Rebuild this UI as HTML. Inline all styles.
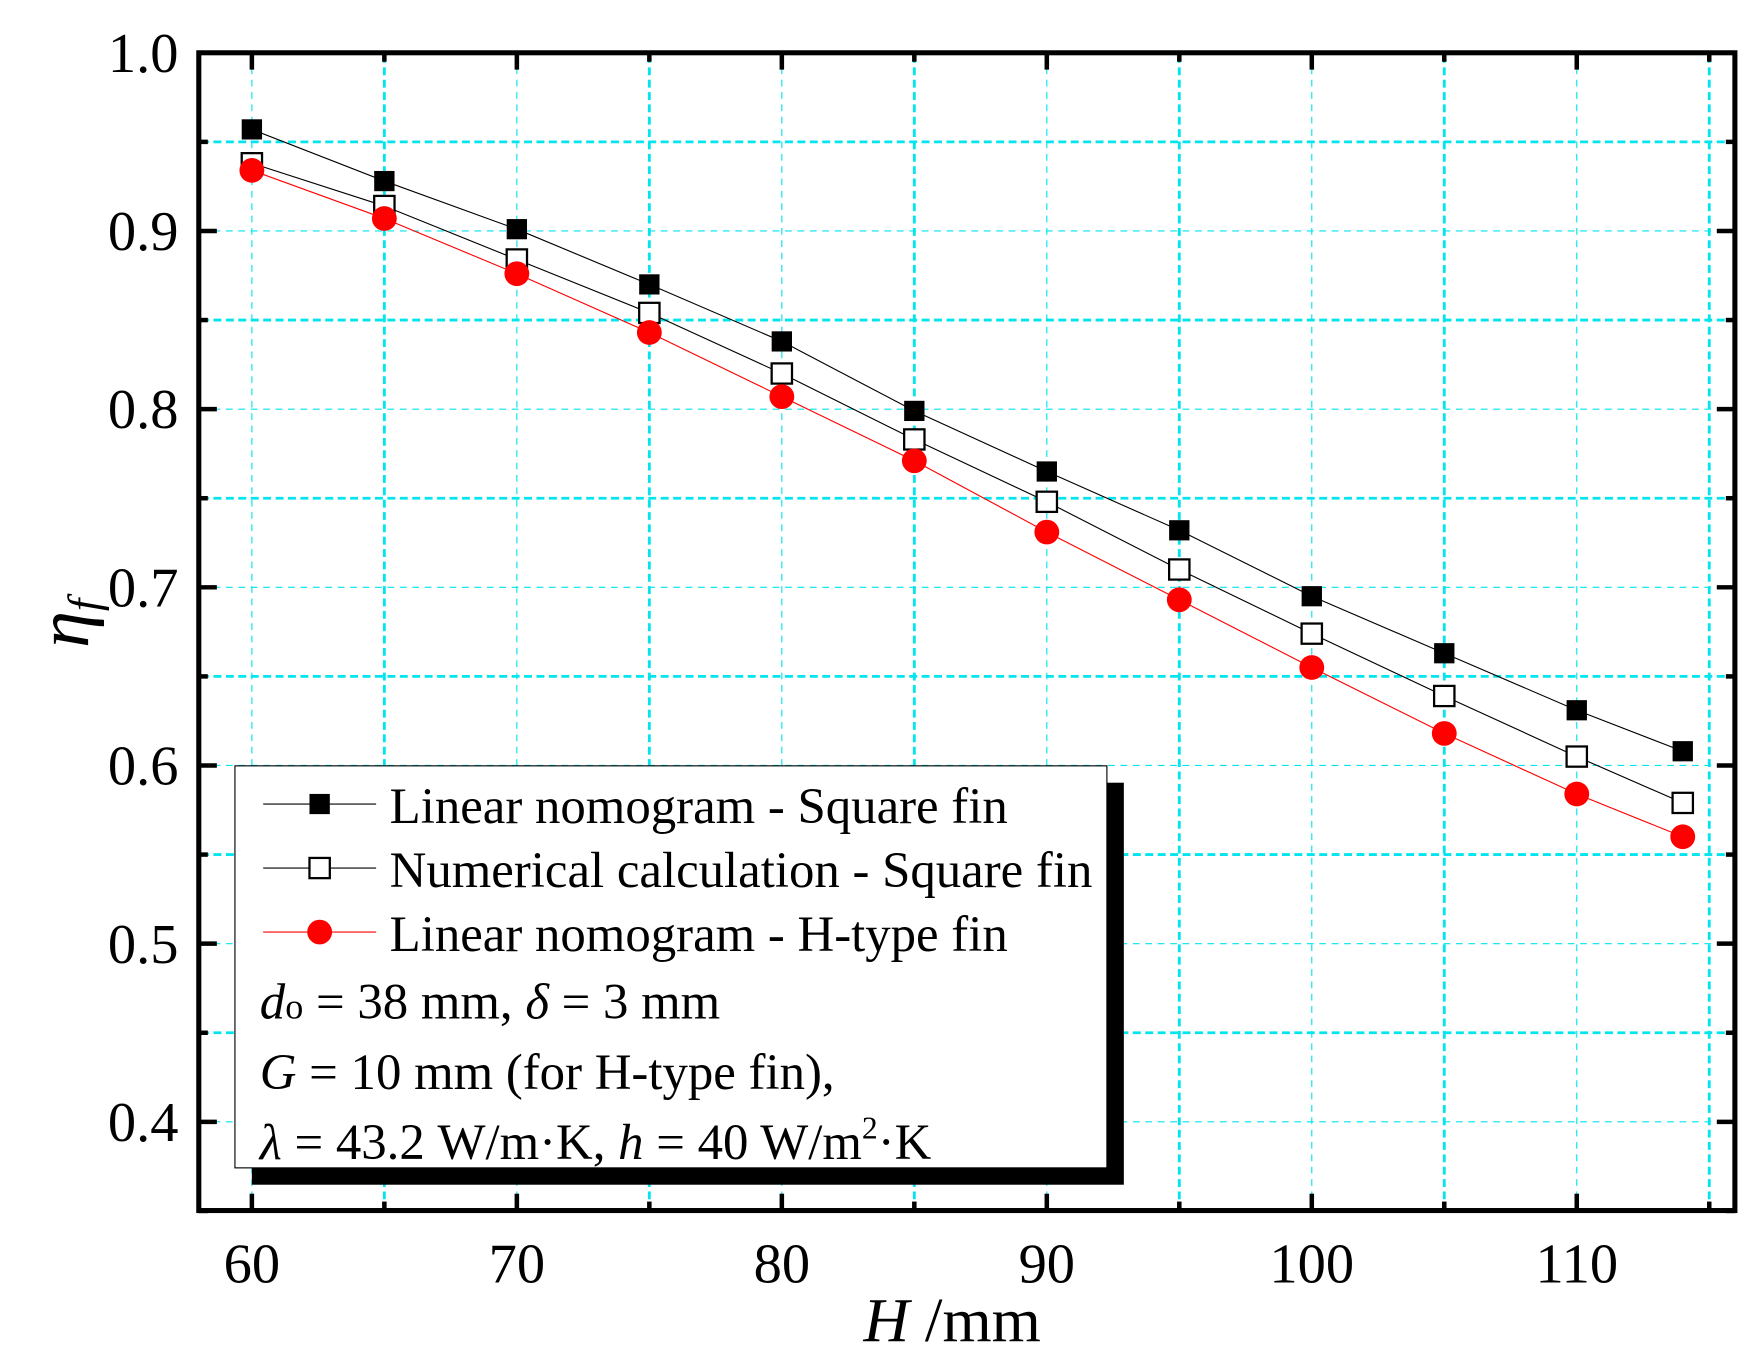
<!DOCTYPE html>
<html><head><meta charset="utf-8"><style>html,body{margin:0;padding:0;background:#fff}svg{display:block}</style></head>
<body>
<svg width="1762" height="1370" viewBox="0 0 1560 1220" preserveAspectRatio="none" xmlns="http://www.w3.org/2000/svg" font-family="Liberation Serif, serif">
<rect width="1560" height="1220" fill="#fff"/>
<g id="grid"></g>
<g id="ticks"></g>
<rect x="176" y="47" width="1360" height="1031" fill="none" stroke="#000" stroke-width="4.5"/>
<g id="series"></g>
<g id="labels" font-size="50" fill="#000"></g>
<!-- legend -->
<rect x="223" y="697" width="772" height="358" fill="#000"/>
<rect x="208" y="682" width="772" height="358" fill="#fff" stroke="#000" stroke-width="1"/>
<line x1="233" y1="716" x2="333" y2="716" stroke="#000" stroke-width="1"/>
<rect x="274" y="707" width="18" height="18" fill="#000"/>
<line x1="233" y1="773" x2="333" y2="773" stroke="#000" stroke-width="1"/>
<rect x="274" y="764" width="18" height="18" fill="#fff" stroke="#000" stroke-width="2"/>
<line x1="233" y1="830" x2="333" y2="830" stroke="#f00" stroke-width="1"/>
<circle cx="283" cy="830" r="11" fill="#f00"/>
<g font-size="45" fill="#000">
<text x="345" y="733">Linear nomogram - Square fin</text>
<text x="345" y="790">Numerical calculation - Square fin</text>
<text x="345" y="847">Linear nomogram - H-type fin</text>
<text x="230" y="907"><tspan font-style="italic">d</tspan><tspan font-size="32">o</tspan> = 38 mm, <tspan font-style="italic">δ</tspan> = 3 mm</text>
<text x="230" y="970"><tspan font-style="italic">G</tspan> = 10 mm (for H-type fin),</text>
<text x="230" y="1032"><tspan font-style="italic">λ</tspan> = 43.2 W/m·K, <tspan font-style="italic">h</tspan> = 40 W/m<tspan font-size="28" dy="-18">2</tspan><tspan dy="18">·K</tspan></text>
</g>
<text x="843" y="1194" font-size="56" text-anchor="middle"><tspan font-style="italic">H</tspan> /mm</text>
<g transform="translate(78,555) rotate(-90)"><text font-size="66" font-style="italic" text-anchor="middle">η<tspan font-size="40" dy="10">f</tspan></text></g>
<script>
const X=v=>223+(v-60)*23.46, Y=v=>47+(1-v)*1586.7;
const ns="http://www.w3.org/2000/svg";
function el(p,t,a,txt){const e=document.createElementNS(ns,t);for(const k in a)e.setAttribute(k,a[k]);if(txt!=null)e.textContent=txt;document.getElementById(p).appendChild(e);return e;}
for(let i=0;i<=11;i++){const v=60+i*5,x=X(v);const maj=v%10==0;
 el('grid','line',{x1:x,y1:49,x2:x,y2:1076,stroke:'#00e5ee','stroke-width':maj?1:2.5,'stroke-dasharray':maj?'6 5':'7 4'});
 el('ticks','line',{x1:x,y1:1078,x2:x,y2:maj?1063:1070,stroke:'#000','stroke-width':4});
 el('ticks','line',{x1:x,y1:47,x2:x,y2:maj?62:55,stroke:'#000','stroke-width':4});
 if(maj)el('labels','text',{x:x,y:1142,'text-anchor':'middle'},String(v));}
for(let i=0;i<=13;i++){const v=0.35+i*0.05,y=Y(v);const maj=i%2==1;
 if(i>0&&i<13)el('grid','line',{x1:178,y1:y,x2:1534,y2:y,stroke:'#00e5ee','stroke-width':maj?1:2.5,'stroke-dasharray':maj?'6 5':'7 4'});
 el('ticks','line',{x1:176,y1:y,x2:maj?192:184,y2:y,stroke:'#000','stroke-width':4});
 el('ticks','line',{x1:1536,y1:y,x2:maj?1520:1528,y2:y,stroke:'#000','stroke-width':4});
 if(maj)el('labels','text',{x:158,y:y+17,'text-anchor':'end'},v.toFixed(1));}
const xs=[60,65,70,75,80,85,90,95,100,105,110,114];
const a=[0.957,0.928,0.901,0.870,0.838,0.799,0.765,0.732,0.695,0.663,0.631,0.608];
const b=[0.938,0.914,0.884,0.854,0.820,0.783,0.748,0.710,0.674,0.639,0.605,0.579];
const c=[0.934,0.907,0.876,0.843,0.807,0.771,0.731,0.693,0.655,0.618,0.584,0.560];
function line(d,col){el('series','polyline',{points:xs.map((x,i)=>X(x)+','+Y(d[i])).join(' '),fill:'none',stroke:col,'stroke-width':1});}
line(a,'#000');line(b,'#000');line(c,'#f00');
xs.forEach((x,i)=>{el('series','rect',{x:X(x)-9,y:Y(a[i])-9,width:18,height:18,fill:'#000'});
 el('series','rect',{x:X(x)-9,y:Y(b[i])-9,width:18,height:18,fill:'#fff',stroke:'#000','stroke-width':2});
 el('series','circle',{cx:X(x),cy:Y(c[i]),r:11,fill:'#f00'});});
</script>
</svg>
</body></html>
